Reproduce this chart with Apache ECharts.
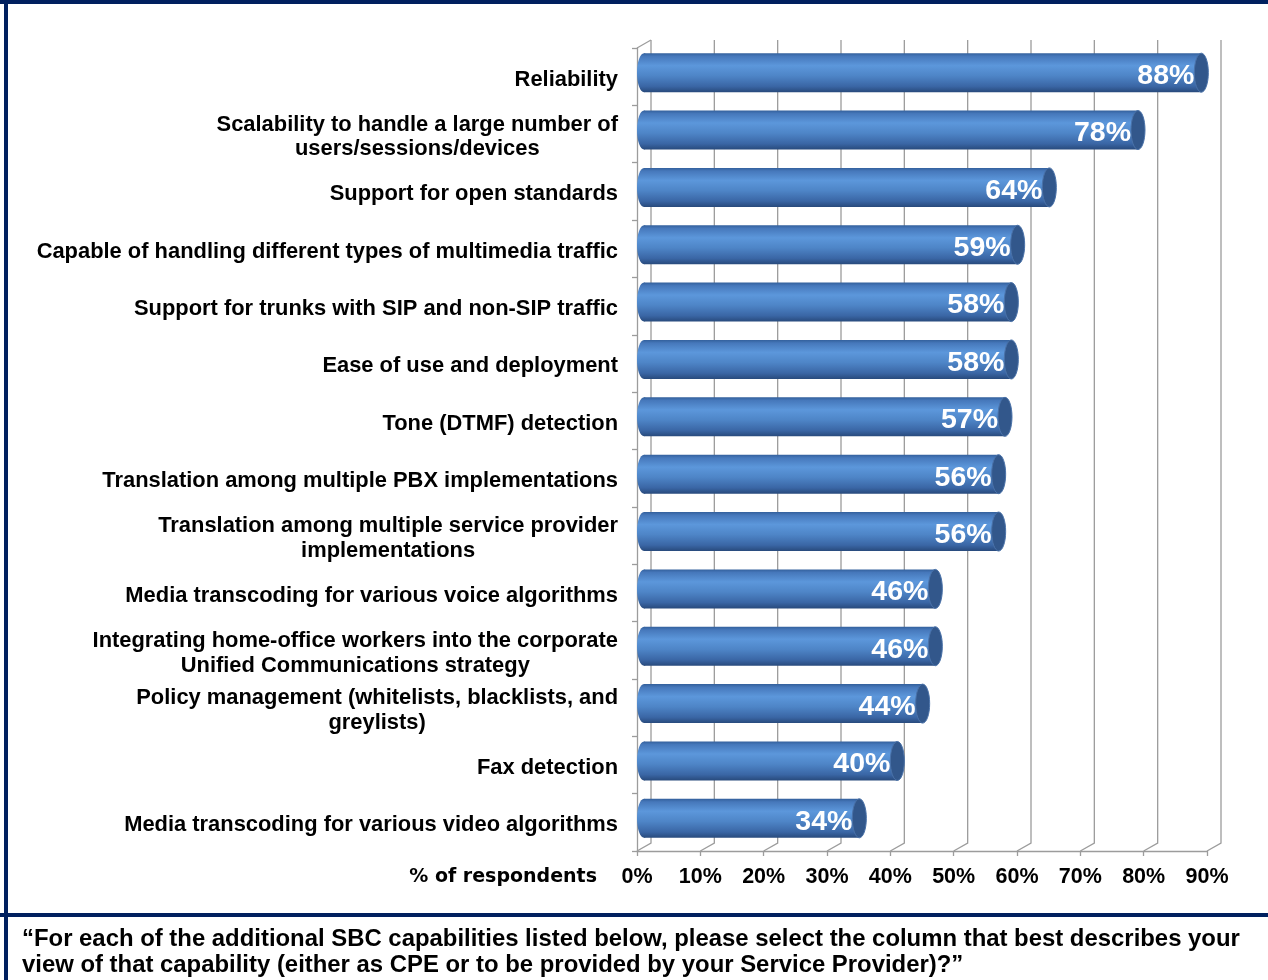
<!DOCTYPE html>
<html>
<head>
<meta charset="utf-8">
<style>
  html, body { margin: 0; padding: 0; background: #ffffff; }
  #chart { width: 1268px; height: 980px; }
</style>
<script src="https://cdn.jsdelivr.net/npm/echarts@6/dist/echarts.min.js"></script>
</head>
<body>
<div id="chart"></div>
<script>
// Survey results: share of respondents naming each SBC capability
const categories = [
  'Reliability',
  'Scalability to handle a large number of\nusers/sessions/devices',
  'Support for open standards',
  'Capable of handling different types of multimedia traffic',
  'Support for trunks with SIP and non-SIP traffic',
  'Ease of use and deployment',
  'Tone (DTMF) detection',
  'Translation among multiple PBX implementations',
  'Translation among multiple service provider\nimplementations',
  'Media transcoding for various voice algorithms',
  'Integrating home-office workers into the corporate\nUnified Communications strategy',
  'Policy management (whitelists, blacklists, and\ngreylists)',
  'Fax detection',
  'Media transcoding for various video algorithms'
];
const values = [88, 78, 64, 59, 58, 58, 57, 56, 56, 46, 46, 44, 40, 34];
const xTicks = [0, 10, 20, 30, 40, 50, 60, 70, 80, 90];
const axisName = '% of respondents';
const question = '\u201CFor each of the additional SBC capabilities listed below, please select the column that best describes your\nview of that capability (either as CPE or to be provided by your Service Provider)?\u201D';

const FONT = '"Liberation Sans", Arial, Helvetica, sans-serif';
const NAVY = '#00205F';
const GRID_GRAY = '#9C9C9C';
// pseudo-3D depth offset of the back wall relative to the front plane
const DEPTH_X = 14;
const DEPTH_Y = -8;

const measureCtx = document.createElement('canvas').getContext('2d');
const LABEL_SIZE = 21.9;
measureCtx.font = 'bold ' + LABEL_SIZE + 'px ' + FONT;
function blockWidth(text) {
  return Math.max.apply(null, text.split('\n').map(l => measureCtx.measureText(l).width));
}

const chart = echarts.init(document.getElementById('chart'), null, { renderer: 'canvas' });

const bodyGradient = () => new echarts.graphic.LinearGradient(0, 0, 0, 1, [
  { offset: 0.00, color: '#33609C' },
  { offset: 0.08, color: '#4678BB' },
  { offset: 0.32, color: '#5C97DB' },
  { offset: 0.58, color: '#4E85C7' },
  { offset: 0.85, color: '#3A66A5' },
  { offset: 1.00, color: '#284A7C' }
]);

const option = {
  animation: false,
  backgroundColor: '#ffffff',
  title: {
    text: question,
    left: 22,
    top: 926,
    padding: 0,
    textStyle: {
      fontFamily: FONT,
      fontWeight: 'bold',
      fontSize: 23.9,
      lineHeight: 26,
      color: '#000000'
    }
  },
  graphic: [
    { type: 'rect', shape: { x: 0, y: 0, width: 1268, height: 4 }, style: { fill: NAVY } },
    { type: 'rect', shape: { x: 4, y: 0, width: 4, height: 980 }, style: { fill: NAVY } },
    { type: 'rect', shape: { x: 0, y: 913, width: 1268, height: 4 }, style: { fill: NAVY } }
  ],
  grid: { left: 637, right: 61, top: 48, bottom: 129 },
  xAxis: {
    type: 'value',
    min: 0,
    max: 90,
    interval: 10,
    name: axisName,
    nameLocation: 'start',
    nameGap: 40,
    nameTextStyle: {
      fontFamily: '"DejaVu Sans", ' + FONT,
      fontWeight: 'bold',
      fontSize: 19,
      color: '#000000',
      align: 'right',
      verticalAlign: 'top',
      padding: [17, 0, 0, 0]
    },
    axisLine: { show: true, lineStyle: { color: GRID_GRAY, width: 1.3 } },
    axisTick: { show: true, length: 5, lineStyle: { color: GRID_GRAY, width: 1.3 } },
    axisLabel: {
      formatter: '{value}%',
      margin: 15,
      fontFamily: FONT,
      fontWeight: 'bold',
      fontSize: 21.5,
      color: '#000000'
    },
    splitLine: { show: false }
  },
  yAxis: {
    type: 'category',
    inverse: true,
    data: categories,
    axisLine: { show: true, lineStyle: { color: GRID_GRAY, width: 1.3 } },
    axisTick: { show: true, length: 5, lineStyle: { color: GRID_GRAY, width: 1.3 } },
    axisLabel: { show: false },
    splitLine: { show: false }
  },
  series: [
    {
      // back wall and floor gridlines
      type: 'custom',
      z: 1,
      silent: true,
      clip: false,
      data: xTicks.map(v => [v, 0]),
      renderItem: function (params, api) {
        const cs = params.coordSys;
        const x = api.coord([api.value(0), 0])[0];
        const bottom = cs.y + cs.height;
        const top = cs.y;
        const children = [{
          type: 'polyline',
          shape: { points: [[x, bottom], [x + DEPTH_X, bottom + DEPTH_Y], [x + DEPTH_X, top + DEPTH_Y]] },
          style: { stroke: GRID_GRAY, lineWidth: 1.3, fill: null }
        }];
        if (params.dataIndex === 0) {
          children.push({
            type: 'line',
            shape: { x1: x, y1: top, x2: x + DEPTH_X, y2: top + DEPTH_Y },
            style: { stroke: GRID_GRAY, lineWidth: 1.3 }
          });
        }
        return { type: 'group', children: children };
      }
    },
    {
      // cylinder bars with value labels
      type: 'custom',
      z: 3,
      clip: false,
      data: values.map((v, i) => [v, i]),
      renderItem: function (params, api) {
        const v = api.value(0);
        const i = api.value(1);
        const p0 = api.coord([0, i]);
        const p1 = api.coord([v, i]);
        const band = api.size([0, 1])[1];
        const h = band * 0.68;
        const ry = h / 2;
        const rx = 7;
        const cy = p0[1] + DEPTH_Y / 2;
        const x0 = p0[0] + DEPTH_X / 2;
        const x1 = p1[0] + DEPTH_X / 2;
        return {
          type: 'group',
          children: [
            {
              type: 'ellipse',
              shape: { cx: x0, cy: cy, rx: rx, ry: ry },
              style: { fill: bodyGradient() }
            },
            {
              type: 'rect',
              shape: { x: x0, y: cy - ry, width: x1 - x0, height: h },
              style: { fill: bodyGradient() }
            },
            {
              type: 'ellipse',
              shape: { cx: x1, cy: cy, rx: rx, ry: ry },
              style: { fill: '#32578B', stroke: '#4A72A9', lineWidth: 1 }
            },
            {
              type: 'text',
              style: {
                text: v + '%',
                x: x1 - rx,
                y: cy + 3.5,
                align: 'right',
                verticalAlign: 'middle',
                fontFamily: FONT,
                fontWeight: 'bold',
                fontSize: 28.5,
                fill: '#ffffff'
              }
            }
          ]
        };
      }
    },
    {
      // category labels: block right-aligned to the axis, lines centred within the block
      type: 'custom',
      z: 4,
      silent: true,
      clip: false,
      data: categories.map((c, i) => [0, i]),
      renderItem: function (params, api) {
        const i = api.value(1);
        const p = api.coord([0, i]);
        const text = categories[params.dataIndex];
        const w = blockWidth(text);
        const right = params.coordSys.x - 19;
        return {
          type: 'text',
          style: {
            text: text,
            x: right - w / 2,
            y: p[1] + 3,
            align: 'center',
            verticalAlign: 'middle',
            fontFamily: FONT,
            fontWeight: 'bold',
            fontSize: LABEL_SIZE,
            lineHeight: 24.5,
            fill: '#000000'
          }
        };
      }
    }
  ]
};

chart.setOption(option);
</script>
</body>
</html>
